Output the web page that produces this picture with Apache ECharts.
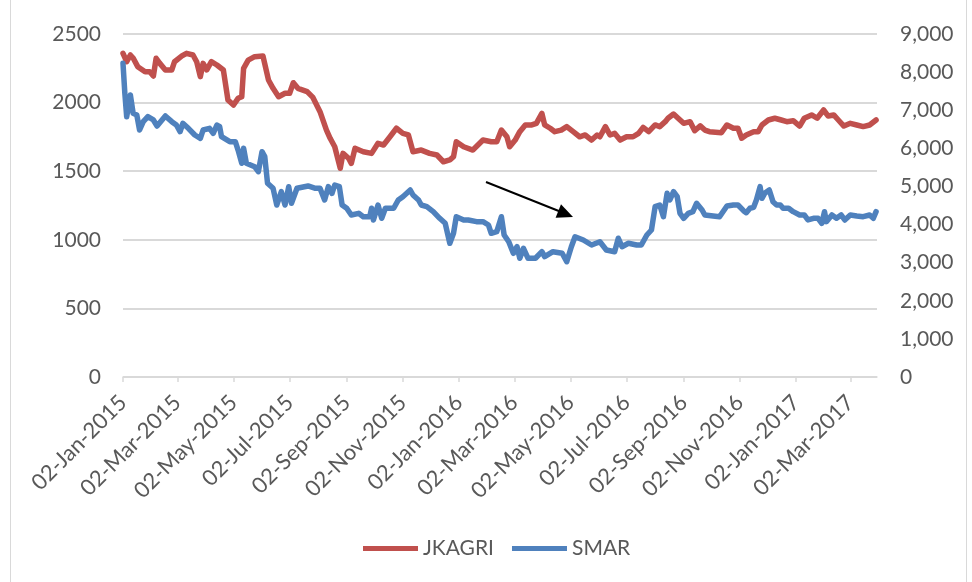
<!DOCTYPE html>
<html>
<head>
<meta charset="utf-8">
<script src="https://cdn.jsdelivr.net/npm/echarts@6/dist/echarts.min.js"></script>
<style>
html,body{margin:0;padding:0;background:#fff;}
#chart{width:972px;height:582px;}
</style>
</head>
<body>
<div id="chart"></div>
<script>
// ---- data ----
const seriesNames = ['JKAGRI', 'SMAR'];

const jkagriDates = ['2015-01-02','2015-01-06','2015-01-10','2015-01-13','2015-01-18','2015-01-26','2015-01-31','2015-02-04','2015-02-07','2015-02-11','2015-02-17','2015-02-24','2015-02-27','2015-03-07','2015-03-12','2015-03-19','2015-03-23','2015-03-27','2015-03-30','2015-04-03','2015-04-08','2015-04-14','2015-04-21','2015-04-26','2015-05-02','2015-05-07','2015-05-11','2015-05-13','2015-05-18','2015-05-25','2015-06-03','2015-06-09','2015-06-14','2015-06-20','2015-06-27','2015-07-02','2015-07-06','2015-07-11','2015-07-21','2015-07-27','2015-08-04','2015-08-11','2015-08-15','2015-08-20','2015-08-26','2015-08-29','2015-09-04','2015-09-07','2015-09-11','2015-09-20','2015-09-29','2015-10-06','2015-10-12','2015-10-19','2015-10-26','2015-11-02','2015-11-08','2015-11-13','2015-11-22','2015-12-01','2015-12-09','2015-12-16','2015-12-23','2015-12-27','2015-12-30','2016-01-07','2016-01-17','2016-01-28','2016-02-06','2016-02-12','2016-02-17','2016-02-23','2016-02-26','2016-03-03','2016-03-08','2016-03-14','2016-03-21','2016-03-26','2016-04-01','2016-04-04','2016-04-10','2016-04-15','2016-04-22','2016-04-28','2016-05-05','2016-05-12','2016-05-18','2016-05-25','2016-05-31','2016-06-03','2016-06-09','2016-06-14','2016-06-19','2016-06-25','2016-07-02','2016-07-09','2016-07-15','2016-07-20','2016-07-26','2016-08-02','2016-08-07','2016-08-13','2016-08-16','2016-08-22','2016-08-27','2016-09-02','2016-09-09','2016-09-14','2016-09-20','2016-09-25','2016-09-30','2016-10-13','2016-10-19','2016-10-26','2016-10-31','2016-11-04','2016-11-09','2016-11-17','2016-11-22','2016-11-26','2016-12-03','2016-12-10','2016-12-17','2016-12-23','2016-12-30','2017-01-06','2017-01-11','2017-01-19','2017-01-25','2017-02-01','2017-02-06','2017-02-12','2017-02-17','2017-02-23','2017-03-02','2017-03-09','2017-03-16','2017-03-23','2017-03-30'];
const jkagriValues = [2359,2298,2347,2325,2262,2225,2225,2194,2323,2286,2238,2238,2298,2340,2359,2347,2298,2189,2286,2238,2298,2274,2238,2019,1982,2031,2043,2250,2310,2335,2340,2165,2104,2043,2068,2068,2145,2104,2080,2040,1934,1800,1740,1678,1521,1630,1594,1557,1667,1642,1630,1703,1691,1751,1813,1776,1764,1642,1654,1630,1618,1569,1582,1606,1715,1678,1654,1727,1715,1715,1800,1751,1678,1727,1788,1837,1837,1849,1922,1837,1813,1788,1800,1825,1788,1751,1764,1727,1764,1751,1825,1764,1776,1727,1751,1751,1776,1819,1788,1837,1825,1861,1886,1917,1886,1849,1861,1795,1830,1800,1788,1781,1837,1813,1813,1740,1764,1788,1788,1837,1873,1886,1873,1861,1868,1829,1886,1910,1886,1946,1902,1910,1873,1829,1849,1837,1825,1837,1873];

const smarDates = ['2015-01-02','2015-01-04','2015-01-06','2015-01-10','2015-01-13','2015-01-17','2015-01-20','2015-01-24','2015-01-29','2015-02-04','2015-02-08','2015-02-17','2015-02-24','2015-03-01','2015-03-05','2015-03-08','2015-03-14','2015-03-21','2015-03-27','2015-03-30','2015-04-06','2015-04-10','2015-04-14','2015-04-17','2015-04-19','2015-04-28','2015-05-04','2015-05-07','2015-05-11','2015-05-13','2015-05-16','2015-05-25','2015-05-29','2015-06-02','2015-06-05','2015-06-08','2015-06-14','2015-06-18','2015-06-23','2015-06-27','2015-07-01','2015-07-04','2015-07-10','2015-07-22','2015-07-30','2015-08-04','2015-08-09','2015-08-13','2015-08-17','2015-08-20','2015-08-25','2015-08-28','2015-09-02','2015-09-07','2015-09-15','2015-09-20','2015-09-27','2015-09-29','2015-10-01','2015-10-06','2015-10-10','2015-10-14','2015-10-23','2015-10-28','2015-11-02','2015-11-10','2015-11-13','2015-11-19','2015-11-22','2015-11-28','2015-12-05','2015-12-12','2015-12-18','2015-12-23','2015-12-27','2015-12-30','2016-01-07','2016-01-12','2016-01-21','2016-01-28','2016-02-03','2016-02-06','2016-02-12','2016-02-17','2016-02-20','2016-02-25','2016-03-01','2016-03-05','2016-03-08','2016-03-12','2016-03-17','2016-03-25','2016-04-01','2016-04-04','2016-04-13','2016-04-23','2016-04-28','2016-05-03','2016-05-07','2016-05-16','2016-05-25','2016-06-03','2016-06-10','2016-06-19','2016-06-23','2016-06-27','2016-07-04','2016-07-13','2016-07-18','2016-07-24','2016-07-29','2016-08-02','2016-08-07','2016-08-11','2016-08-15','2016-08-18','2016-08-22','2016-08-26','2016-08-29','2016-09-02','2016-09-07','2016-09-12','2016-09-16','2016-09-22','2016-09-25','2016-10-04','2016-10-11','2016-10-19','2016-10-26','2016-10-31','2016-11-06','2016-11-09','2016-11-13','2016-11-17','2016-11-20','2016-11-24','2016-11-26','2016-11-29','2016-12-04','2016-12-08','2016-12-12','2016-12-16','2016-12-19','2016-12-25','2016-12-30','2017-01-06','2017-01-11','2017-01-15','2017-01-21','2017-01-26','2017-01-30','2017-02-02','2017-02-04','2017-02-10','2017-02-15','2017-02-20','2017-02-24','2017-03-02','2017-03-09','2017-03-16','2017-03-23','2017-03-27','2017-03-30'];
const smarValues = [8231,7444,6830,7400,6920,6875,6481,6700,6830,6744,6586,6849,6700,6612,6437,6656,6526,6350,6263,6481,6526,6394,6612,6568,6306,6174,6174,5956,5608,6001,5608,5518,5387,5912,5781,5083,4952,4513,4863,4513,4994,4558,4952,5012,4952,4952,4644,4994,4820,5038,4994,4513,4427,4251,4295,4206,4206,4427,4120,4513,4164,4427,4427,4644,4731,4907,4776,4644,4513,4469,4338,4164,4033,3508,3771,4206,4120,4120,4076,4076,3988,3771,3813,4206,3726,3550,3246,3419,3115,3377,3115,3115,3288,3157,3288,3246,3025,3419,3681,3595,3464,3550,3332,3288,3640,3419,3508,3464,3464,3726,3857,4469,4513,4206,4820,4644,4863,4731,4295,4164,4295,4338,4558,4382,4251,4225,4206,4487,4513,4513,4364,4311,4427,4452,4644,4994,4689,4820,4907,4600,4513,4513,4427,4427,4338,4251,4251,4120,4164,4164,4033,4338,4076,4251,4164,4251,4120,4251,4225,4206,4251,4164,4338];

const tickDates = ['2015-01-02','2015-03-02','2015-05-02','2015-07-02','2015-09-02','2015-11-02','2016-01-02','2016-03-02','2016-05-02','2016-07-02','2016-09-02','2016-11-02','2017-01-02','2017-03-02'];
const axisStart = '2015-01-02';
const axisEnd = '2017-03-31';
const leftTicks = [0, 500, 1000, 1500, 2000, 2500];
const rightTicks = [0, 1000, 2000, 3000, 4000, 5000, 6000, 7000, 8000, 9000];

// ---- helpers ----
const MON = ['Jan','Feb','Mar','Apr','May','Jun','Jul','Aug','Sep','Oct','Nov','Dec'];
function ts(s){ const p = s.split('-').map(Number); return new Date(p[0], p[1]-1, p[2]).getTime(); }
function fmtDate(v){ const d = new Date(v); const dd = String(d.getDate()).padStart(2,'0'); return dd + '-' + MON[d.getMonth()] + '-' + d.getFullYear(); }
function pairs(dates, vals){ return dates.map((d,i)=>[ts(d), vals[i]]); }

const FONT = 'Lato';
const GRAY = '#595959';
const GRID = '#D9D9D9';

const chart = echarts.init(document.getElementById('chart'), null, {renderer:'canvas'});
chart.setOption({
  animation: false,
  backgroundColor: '#ffffff',
  textStyle: {fontFamily: FONT},
  grid: {left: 123, right: 95, top: 34, bottom: 205, containLabel: false},
  legend: {
    data: seriesNames,
    left: 358, top: 533,
    icon: 'rect', itemWidth: 55, itemHeight: 5, itemGap: 18,
    textStyle: {fontFamily: FONT, fontSize: 21, color: GRAY}
  },
  xAxis: {
    type: 'value',
    min: ts(axisStart), max: ts(axisEnd),
    axisLine: {show: true, onZero: false, lineStyle: {color: GRID, width: 1.5}},
    axisTick: {show: true, length: 5, lineStyle: {color: GRID, width: 1.5}, customValues: tickDates.map(ts)},
    axisLabel: {
      show: true, rotate: 45, margin: 22, fontFamily: FONT, fontSize: 22, color: GRAY,
      customValues: tickDates.map(ts), formatter: v => fmtDate(v), hideOverlap: false
    },
    splitLine: {show: false}
  },
  yAxis: [
    {
      type: 'value', min: leftTicks[0], max: leftTicks[leftTicks.length-1], interval: 500,
      axisLine: {show: false}, axisTick: {show: false},
      axisLabel: {fontFamily: FONT, fontSize: 21, color: GRAY, margin: 22, formatter: v => String(v)},
      splitLine: {show: true, lineStyle: {color: GRID, width: 2}}
    },
    {
      type: 'value', min: rightTicks[0], max: rightTicks[rightTicks.length-1], interval: 1000,
      position: 'right',
      axisLine: {show: false}, axisTick: {show: false},
      axisLabel: {fontFamily: FONT, fontSize: 21, color: GRAY, margin: 23,
        formatter: v => v.toLocaleString('en-US')},
      splitLine: {show: false}
    }
  ],
  series: [
    {
      name: seriesNames[0], type: 'line', yAxisIndex: 0, showSymbol: false, symbol: 'none',
      data: pairs(jkagriDates, jkagriValues),
      lineStyle: {color: '#C0504D', width: 5.5, join: 'round', cap: 'round'},
      itemStyle: {color: '#C0504D'}, z: 3
    },
    {
      name: seriesNames[1], type: 'line', yAxisIndex: 1, showSymbol: false, symbol: 'none',
      data: pairs(smarDates, smarValues),
      lineStyle: {color: '#4F81BD', width: 5.5, join: 'round', cap: 'round'},
      itemStyle: {color: '#4F81BD'}, z: 4
    }
  ],
  graphic: [
    {type: 'rect', shape: {x: 10.5, y: -5, width: 956, height: 600}, style: {fill: 'none', stroke: GRID, lineWidth: 1}, silent: true, z: 0},
    {type: 'line', shape: {x1: 486, y1: 182, x2: 560, y2: 211.5}, style: {stroke: '#000', lineWidth: 2}, z: 10},
    {type: 'polygon', shape: {points: [[573, 217], [555.6, 217.8], [561, 204.3]]}, style: {fill: '#000'}, z: 10}
  ]
});
</script>
</body>
</html>
